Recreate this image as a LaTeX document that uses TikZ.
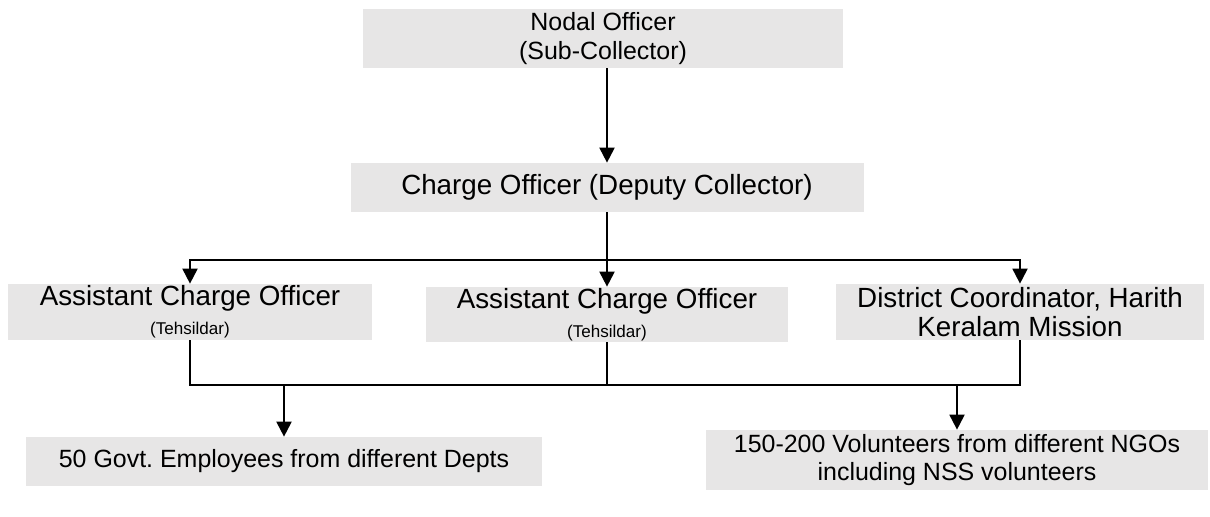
\documentclass[tikz,border=0pt]{standalone}
\usepackage{fontspec}
\setmainfont{Liberation Sans}
\usetikzlibrary{arrows.meta}
\definecolor{boxgray}{HTML}{E7E6E6}
\begin{document}
\begin{tikzpicture}[
    box/.style={rectangle, fill=boxgray, align=center, inner sep=0pt, font=\fontsize{14.2}{16}\selectfont},
    bigbox/.style={box, font=\fontsize{15.8}{16.5}\selectfont},
    arrow/.style={->, line width=1.1pt, >={Triangle[length=0.3cm, width=0.3cm]}},
    wire/.style={line width=1.1pt}
]
    \useasboundingbox (0,0) rectangle (24.2,10.32);
    \node[box, minimum width=9.6cm, minimum height=1.18cm] (nodal) at (12.06,9.55) {Nodal Officer\\(Sub-Collector)};
    \node[bigbox, minimum width=10.26cm, minimum height=0.98cm] (charge) at (12.14,6.57) {Charge Officer (Deputy Collector)};
    \node[bigbox, minimum width=7.28cm, minimum height=1.12cm] (aco1) at (3.80,4.08) {Assistant Charge Officer\\{\fontsize{9.7}{11}\selectfont (Tehsildar)}};
    \node[bigbox, minimum width=7.24cm, minimum height=1.10cm] (aco2) at (12.14,4.03) {Assistant Charge Officer\\{\fontsize{9.7}{11}\selectfont (Tehsildar)}};
    \node[bigbox, minimum width=7.36cm, minimum height=1.12cm] (coord) at (20.40,4.08) {District Coordinator, Harith\\Keralam Mission};
    \node[box, minimum width=10.3cm, minimum height=0.98cm] (govt) at (5.68,1.09) {50 Govt.\ Employees from different Depts};
    \node[box, minimum width=10.04cm, minimum height=1.2cm] (volunteers) at (19.14,1.12) {150-200 Volunteers from different NGOs\\including NSS volunteers};

    % buses between the levels
    \coordinate (upperbus) at (12.14,5.12);
    \coordinate (lowerbus) at (12.14,2.62);

    \draw[arrow] (nodal.south -| charge.north) -- (charge.north);
    \draw[arrow] (charge.south) -- (aco2.north);
    \draw[arrow] (upperbus) -| (aco1.north);
    \draw[arrow] (upperbus) -| (coord.north);
    \draw[wire] (aco1.south) |- (lowerbus) -| (coord.south);
    \draw[wire] (aco2.south) -- (lowerbus);
    \draw[arrow] (govt.north |- lowerbus) -- (govt.north);
    \draw[arrow] (volunteers.north |- lowerbus) -- (volunteers.north);
\end{tikzpicture}
\end{document}
